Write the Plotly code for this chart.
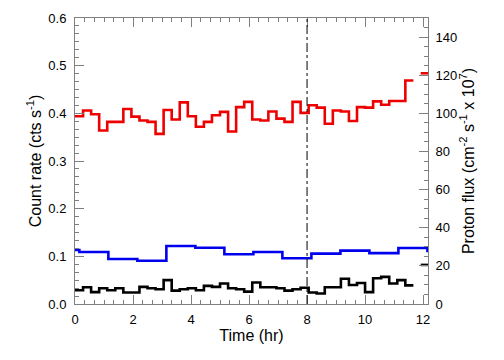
import numpy as np
import plotly.graph_objects as go

# ---- data ----
BIN_HR = 1000.0 / 3600.0  # 1000 s bins

count_rate_red = [0.394, 0.406, 0.398, 0.364, 0.382, 0.382, 0.409, 0.393, 0.385, 0.382,
                  0.357, 0.407, 0.387, 0.423, 0.394, 0.372, 0.382, 0.396, 0.403, 0.362,
                  0.413, 0.424, 0.387, 0.385, 0.404, 0.389, 0.382, 0.424, 0.401, 0.417,
                  0.412, 0.378, 0.406, 0.404, 0.384, 0.413, 0.412, 0.425, 0.418, 0.426,
                  0.426, 0.469]

count_rate_black = [0.029, 0.035, 0.025, 0.033, 0.029, 0.033, 0.024, 0.024, 0.036, 0.033,
                    0.031, 0.050, 0.028, 0.031, 0.033, 0.029, 0.038, 0.036, 0.043, 0.033,
                    0.031, 0.026, 0.045, 0.035, 0.035, 0.033, 0.028, 0.031, 0.034, 0.024,
                    0.022, 0.035, 0.035, 0.053, 0.040, 0.044, 0.025, 0.054, 0.057, 0.043,
                    0.050, 0.039]

proton_times = [0.0, 0.15, 1.15, 2.15, 3.15, 4.15, 5.15, 6.15, 7.15, 8.15, 9.15, 10.15, 11.15, 12.15, 12.4]
proton_flux = [28.3, 27.3, 23.6, 22.7, 30.4, 29.5, 26.1, 27.3, 24.0, 26.4, 28.0, 26.7, 29.4, 27.8]

end_mark_times = [11.92, 12.4]
end_mark_red = 0.484
end_mark_black = 0.082

event_time = 8.0

x_ticks = [0, 2, 4, 6, 8, 10, 12]
left_ticks = [0.0, 0.1, 0.2, 0.3, 0.4, 0.5, 0.6]
right_ticks = [0, 20, 40, 60, 80, 100, 120, 140]

# ---- build step traces ----
def step_xy(vals):
    t = list(np.arange(len(vals) + 1) * BIN_HR)
    return t, list(vals) + [vals[-1]]

fig = go.Figure()

tr, yr = step_xy(count_rate_red)
fig.add_trace(go.Scatter(x=tr, y=yr, mode="lines", line=dict(color="#ee0000", width=2.6, shape="hv"),
                         showlegend=False, hoverinfo="skip"))
tb, yb = step_xy(count_rate_black)
fig.add_trace(go.Scatter(x=tb, y=yb, mode="lines", line=dict(color="black", width=2.6, shape="hv"),
                         showlegend=False, hoverinfo="skip"))
fig.add_trace(go.Scatter(x=proton_times, y=proton_flux + [proton_flux[-1]], mode="lines", yaxis="y2",
                         line=dict(color="#0000ee", width=2.6, shape="hv"),
                         showlegend=False, hoverinfo="skip"))
fig.add_trace(go.Scatter(x=end_mark_times, y=[end_mark_red] * 2, mode="lines",
                         line=dict(color="#ee0000", width=2.6), showlegend=False, hoverinfo="skip"))
fig.add_trace(go.Scatter(x=end_mark_times, y=[end_mark_black] * 2, mode="lines",
                         line=dict(color="black", width=2.6), showlegend=False, hoverinfo="skip"))

fig.add_shape(type="line", x0=event_time, x1=event_time, xref="x", yref="paper", y0=0, y1=1,
              line=dict(color="black", width=1, dash="dashdot"))

axis_col = "#808080"
font = dict(family="Liberation Sans, Arial, Helvetica, sans-serif", size=13, color="black")

# page body has an 8px default margin: figure is sized so the plot box lands at x 75-428, y 18-304
fig.update_layout(
    width=488, height=344,
    margin=dict(l=67, r=68, t=10, b=48, autoexpand=False),
    paper_bgcolor="white", plot_bgcolor="white",
    font=font,
    xaxis=dict(range=[0, 12.17], tickvals=x_ticks, ticktext=[str(v) for v in x_ticks],
               automargin=False,
               showgrid=False, zeroline=False, showline=True, linecolor=axis_col, linewidth=1,
               mirror="ticks", ticks="inside", ticklen=9, tickcolor=axis_col, tickwidth=1,
               minor=dict(dtick=1/3, ticks="inside", ticklen=4, tickcolor=axis_col, tickwidth=1, showgrid=False),
               title=dict(text="Time (hr)", standoff=0), ticklabelstandoff=3),
    yaxis=dict(range=[0, 0.6], tickvals=left_ticks, ticktext=[f"{v:.1f}" for v in left_ticks],
               automargin=False,
               showgrid=False, zeroline=False, showline=True, linecolor=axis_col, linewidth=1,
               ticks="inside", ticklen=9, tickcolor=axis_col, tickwidth=1,
               minor=dict(dtick=0.1/6, ticks="inside", ticklen=4, tickcolor=axis_col, tickwidth=1, showgrid=False),
               title=dict(text="Count rate (cts s<sup>-1</sup>)", standoff=2), ticklabelstandoff=5),
    yaxis2=dict(range=[0, 150], overlaying="y", side="right", tickvals=right_ticks,
                ticktext=[str(v) for v in right_ticks], automargin=False,
                showgrid=False, zeroline=False, showline=True, linecolor=axis_col, linewidth=1,
                ticks="inside", ticklen=9, tickcolor=axis_col, tickwidth=1,
                minor=dict(dtick=5, ticks="inside", ticklen=4, tickcolor=axis_col, tickwidth=1, showgrid=False),
                title=dict(text="Proton flux (cm<sup>-2</sup> s<sup>-1</sup> x 10<sup>7</sup>)", standoff=5),
                ticklabelstandoff=4),
)

fig.write_html("out.html")
